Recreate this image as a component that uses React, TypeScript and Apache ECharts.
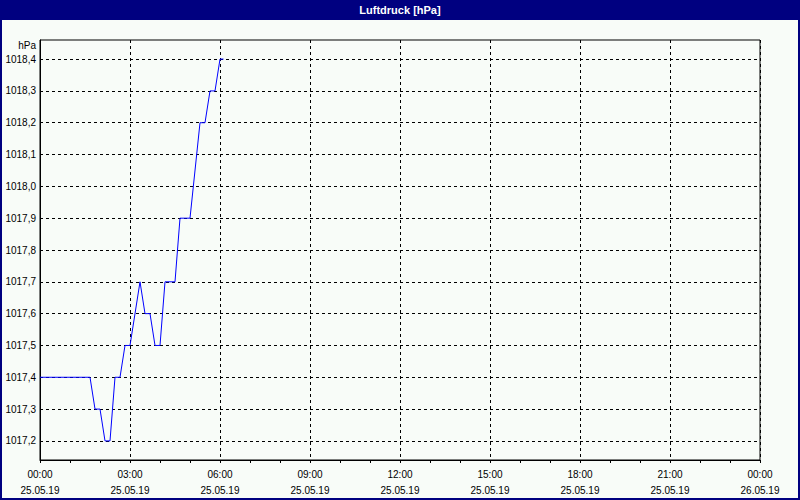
import React, { useEffect, useRef } from "react";
import * as echarts from "echarts";

const TITLE = "Luftdruck [hPa]";
const UNIT = "hPa";
const DATE_START = "25.05.19";
const DATE_END = "26.05.19";

// time of measurement (hh:mm) and air pressure in hPa
const times = [
  "00:00", "01:40", "01:50", "02:00", "02:10", "02:20", "02:30", "02:40",
  "02:50", "03:00", "03:20", "03:30", "03:40", "03:50", "04:00", "04:10",
  "04:30", "04:40", "05:00", "05:20", "05:30", "05:40", "05:50", "06:00", "06:07",
];
const pressure = [
  1017.4, 1017.4, 1017.3, 1017.3, 1017.2, 1017.2, 1017.4, 1017.4,
  1017.5, 1017.5, 1017.7, 1017.6, 1017.6, 1017.5, 1017.5, 1017.7,
  1017.7, 1017.9, 1017.9, 1018.2, 1018.2, 1018.3, 1018.3, 1018.4, 1018.4,
];
const yTicks = [1017.2, 1017.3, 1017.4, 1017.5, 1017.6, 1017.7, 1017.8, 1017.9, 1018.0, 1018.1, 1018.2, 1018.3, 1018.4];

const toMinutes = (t: string) => {
  const [h, m] = t.split(":").map(Number);
  return h * 60 + m;
};

const FONT = "'Liberation Sans', Arial, sans-serif";

export default function App() {
  const ref = useRef<HTMLDivElement>(null);
  useEffect(() => {
    if (!ref.current) return;
    const chart = echarts.init(ref.current, null, { renderer: "svg" });
    const data = times.map((t, i) => [toMinutes(t), pressure[i]]);
    chart.setOption({
      animation: false,
      backgroundColor: "#f8fcf8",
      grid: { left: 40, right: 40, top: 40, bottom: 40, show: true, borderColor: "#000", borderWidth: 1, backgroundColor: "transparent" },
      graphic: [
        { type: "rect", shape: { x: 0, y: 0, width: 800, height: 20 }, style: { fill: "#000080" }, z: 10 },
        { type: "rect", shape: { x: 1, y: 1, width: 798, height: 498 }, style: { fill: "none", stroke: "#000080", lineWidth: 2 }, z: 10 },
        { type: "text", x: 400, y: 10, style: { text: TITLE, fill: "#fff", font: `bold 11px ${FONT}`, align: "center", verticalAlign: "middle" }, z: 11 },
        { type: "text", x: 36, y: 45, style: { text: UNIT, fill: "#000", font: `10px ${FONT}`, align: "right", verticalAlign: "middle" }, z: 11 },
      ],
      xAxis: {
        type: "value",
        min: 0,
        max: 1440,
        interval: 180,
        axisLine: { lineStyle: { color: "#000", width: 1 } },
        axisTick: { show: true, length: 3, lineStyle: { color: "#000" } },
        minorTick: { show: true, splitNumber: 3, length: 3, lineStyle: { color: "#000" } },
        splitLine: { show: true, lineStyle: { color: "#000", type: [3, 3], width: 1 } },
        axisLabel: {
          color: "#000",
          fontFamily: FONT,
          fontSize: 10,
          lineHeight: 16,
          margin: 6,
          formatter: (v: number) => {
            const h = Math.floor(v / 60) % 24;
            const hh = String(h).padStart(2, "0");
            return `${hh}:00\n${v >= 1440 ? DATE_END : DATE_START}`;
          },
        },
      },
      yAxis: {
        type: "value",
        min: 1017.14,
        max: 1018.46,
        axisLine: { show: true, lineStyle: { color: "#000", width: 1 } },
        axisTick: { show: false, customValues: yTicks },
        splitLine: { show: true, lineStyle: { color: "#000", type: [3, 3], width: 1 } },
        axisLabel: {
          customValues: yTicks,
          color: "#000",
          fontFamily: FONT,
          fontSize: 10,
          margin: 4,
          formatter: (v: number) => v.toFixed(1).replace(".", ","),
        },
      },
      series: [
        {
          type: "line",
          data,
          showSymbol: false,
          lineStyle: { color: "#0000ff", width: 1 },
          itemStyle: { color: "#0000ff" },
        },
      ],
    });
    return () => chart.dispose();
  }, []);
  return <div ref={ref} style={{ position: "absolute", left: 0, top: 0, width: 800, height: 500 }} />;
}
